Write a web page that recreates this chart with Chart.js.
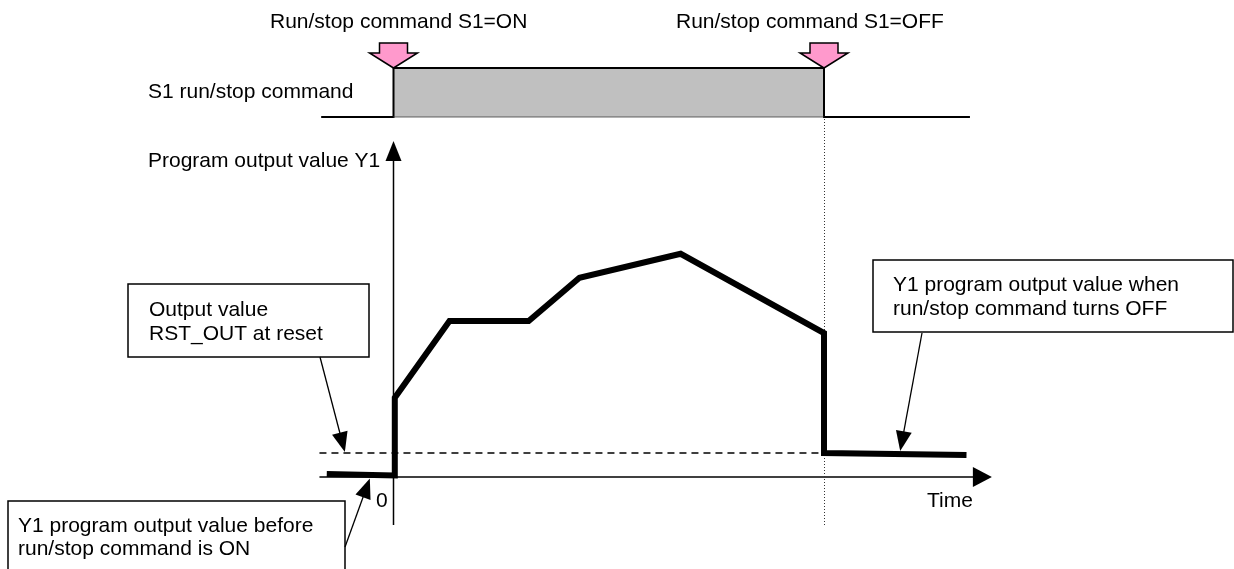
<!DOCTYPE html>
<html>
<head>
<meta charset="utf-8">
<title>Run/stop command and program output value Y1</title>
<script src="https://cdn.jsdelivr.net/npm/chart.js@4.4.1/dist/chart.umd.min.js"></script>
<style>
  body { margin: 0; background: #fff; }
  #wrap { position: relative; width: 1234px; height: 569px; }
</style>
</head>
<body>
<div id="wrap"><canvas id="myChart"></canvas></div>
<script>
// program output value Y1 (time in arbitrary units, S1 turns OFF at t = 10)
const outTime  = [-1.55, 0.03, 0.03, 1.30, 3.14, 4.32, 6.67, 10, 10, 13.31];
const outValue = [1.2, 0.6, 33, 65, 65, 83, 93, 60, 10, 9.2];

// S1 run/stop command (0 = OFF, 1 = ON)
const s1Time  = [-1.68, 0, 0, 10, 10, 13.39];
const s1State = [0, 0, 1, 1, 0, 0];
const s1OnTime = 0;
const s1OffTime = 10;

// output value RST_OUT at reset
const rstTime = [-1.72, 10];
const rstOut = 10;

// axis extents
const axisTime = [-1.72, 13.9];
const axisValue = [-20, 140];

const FONT = '21px "Liberation Sans", Arial, Helvetica, sans-serif';

const ctx = document.getElementById('myChart');

function pts(xs, ys) {
  return xs.map((x, i) => ({ x: x, y: ys[i] }));
}

function arrowHead(c, x1, y1, x2, y2, len, half) {
  const a = Math.atan2(y2 - y1, x2 - x1);
  const bx = x2 - len * Math.cos(a), by = y2 - len * Math.sin(a);
  c.beginPath();
  c.moveTo(x2, y2);
  c.lineTo(bx + half * Math.sin(a), by - half * Math.cos(a));
  c.lineTo(bx - half * Math.sin(a), by + half * Math.cos(a));
  c.closePath();
  c.fill();
}

function pinkArrow(c, x, tip) {
  c.beginPath();
  c.moveTo(x - 14, tip - 25);
  c.lineTo(x + 14, tip - 25);
  c.lineTo(x + 14, tip - 15);
  c.lineTo(x + 24, tip - 15);
  c.lineTo(x, tip);
  c.lineTo(x - 24, tip - 15);
  c.lineTo(x - 14, tip - 15);
  c.closePath();
  c.fillStyle = '#FF99CC';
  c.fill();
  c.strokeStyle = '#000';
  c.lineWidth = 1.5;
  c.stroke();
}

/*  axes + dotted marker under the data  */
const underPlugin = {
  id: 'under',
  beforeDatasetsDraw(chart) {
    const c = chart.ctx;
    const xs = chart.scales.x, ys = chart.scales.y, ss = chart.scales.yS;
    c.save();
    c.strokeStyle = '#000';
    c.fillStyle = '#000';
    c.lineWidth = 1.5;

    // time axis
    const y0 = ys.getPixelForValue(0);
    const xa = xs.getPixelForValue(axisTime[0]), xb = xs.getPixelForValue(axisTime[1]);
    c.beginPath(); c.moveTo(xa, y0); c.lineTo(xb - 15, y0); c.stroke();
    arrowHead(c, xa, y0, xb, y0, 19, 10);

    // value axis
    const x0 = xs.getPixelForValue(0);
    const ya = ys.getPixelForValue(axisValue[0]), yb = ys.getPixelForValue(axisValue[1]);
    c.beginPath(); c.moveTo(x0, ya); c.lineTo(x0, yb + 15); c.stroke();
    arrowHead(c, x0, ya, x0, yb, 20, 8);

    // dotted line where S1 turns OFF
    const xo = xs.getPixelForValue(s1OffTime);
    c.strokeStyle = '#333';
    c.lineWidth = 1;
    c.setLineDash([1, 2]);
    c.beginPath(); c.moveTo(xo + 0.5, ss.getPixelForValue(1)); c.lineTo(xo + 0.5, ya); c.stroke();
    c.restore();
  }
};

/*  labels, boxes and callouts on top  */
const overPlugin = {
  id: 'over',
  afterDraw(chart) {
    const c = chart.ctx;
    const xs = chart.scales.x, ys = chart.scales.y, ss = chart.scales.yS;
    c.save();

    // pink command arrows
    const topY = ss.getPixelForValue(1);
    pinkArrow(c, xs.getPixelForValue(s1OnTime), topY);
    pinkArrow(c, xs.getPixelForValue(s1OffTime), topY);

    c.font = FONT;
    c.fillStyle = '#000';
    c.textBaseline = 'alphabetic';
    c.textAlign = 'left';
    c.fillText('Run/stop command S1=ON', 270, 28);
    c.fillText('Run/stop command S1=OFF', 676, 28);
    c.fillText('S1 run/stop command', 148, 98);
    c.fillText('Program output value Y1', 148, 167);
    c.fillText('Time', 927, 507);
    c.fillText('0', 376, 507);

    // boxes
    c.strokeStyle = '#000';
    c.lineWidth = 1.5;
    c.fillStyle = '#fff';
    c.fillRect(128, 284, 241, 73);
    c.strokeRect(128, 284, 241, 73);
    c.fillRect(873, 260, 360, 72);
    c.strokeRect(873, 260, 360, 72);
    c.fillRect(8, 501, 337, 80);
    c.beginPath();
    c.moveTo(8, 580); c.lineTo(8, 501); c.lineTo(345, 501); c.lineTo(345, 580);
    c.stroke();

    c.fillStyle = '#000';
    c.fillText('Output value', 149, 316);
    c.fillText('RST_OUT at reset', 149, 340);
    c.fillText('Y1 program output value when', 893, 291);
    c.fillText('run/stop command turns OFF', 893, 315);
    c.fillText('Y1 program output value before', 18, 532);
    c.fillText('run/stop command is ON', 18, 555);

    // callouts
    c.lineWidth = 1.3;
    const callouts = [
      [320, 357, xs.getPixelForValue(-1.13), ys.getPixelForValue(rstOut) - 1],
      [922, 333, xs.getPixelForValue(11.77), ys.getPixelForValue(9.57) - 3],
      [345, 547, xs.getPixelForValue(-0.55), ys.getPixelForValue(0) + 1.5]
    ];
    callouts.forEach(k => {
      const a = Math.atan2(k[3] - k[1], k[2] - k[0]);
      c.beginPath();
      c.moveTo(k[0], k[1]);
      c.lineTo(k[2] - 16 * Math.cos(a), k[3] - 16 * Math.sin(a));
      c.stroke();
      arrowHead(c, k[0], k[1], k[2], k[3], 20, 8);
    });
    c.restore();
  }
};

new Chart(ctx, {
  type: 'line',
  data: {
    datasets: [
      {
        label: 'Y1',
        data: pts(outTime, outValue),
        borderColor: '#000',
        borderWidth: 6,
        borderJoinStyle: 'miter',
        borderCapStyle: 'butt',
        pointRadius: 0,
        tension: 0,
        fill: false,
        order: 0
      },
      {
        label: 'RST_OUT',
        data: pts(rstTime, [rstOut, rstOut]),
        borderColor: '#000',
        borderWidth: 1.3,
        borderDash: [7, 5],
        pointRadius: 0,
        fill: false,
        order: 1
      },
      {
        label: 'S1 OFF level',
        data: pts([s1OnTime, s1OffTime], [0, 0]),
        yAxisID: 'yS',
        borderColor: '#333',
        borderWidth: 1.5,
        borderDash: [1, 1],
        pointRadius: 0,
        fill: false,
        order: 2
      },
      {
        label: 'S1',
        data: pts(s1Time, s1State),
        yAxisID: 'yS',
        borderColor: '#000',
        backgroundColor: '#C0C0C0',
        borderWidth: 2,
        pointRadius: 0,
        tension: 0,
        fill: 'origin',
        order: 3
      }
    ]
  },
  options: {
    responsive: true,
    maintainAspectRatio: false,
    animation: false,
    events: [],
    layout: { padding: 0 },
    plugins: { legend: { display: false }, tooltip: { enabled: false } },
    scales: {
      x: { type: 'linear', display: false, min: -393.5 / 43.05, max: (1234 - 393.5) / 43.05 },
      y: { type: 'linear', display: false, min: -92 / 2.4, max: 477 / 2.4 },
      yS: { type: 'linear', display: false, min: -452 / 49, max: 68 / 49 + 1 }
    }
  },
  plugins: [underPlugin, overPlugin]
});
</script>
</body>
</html>
